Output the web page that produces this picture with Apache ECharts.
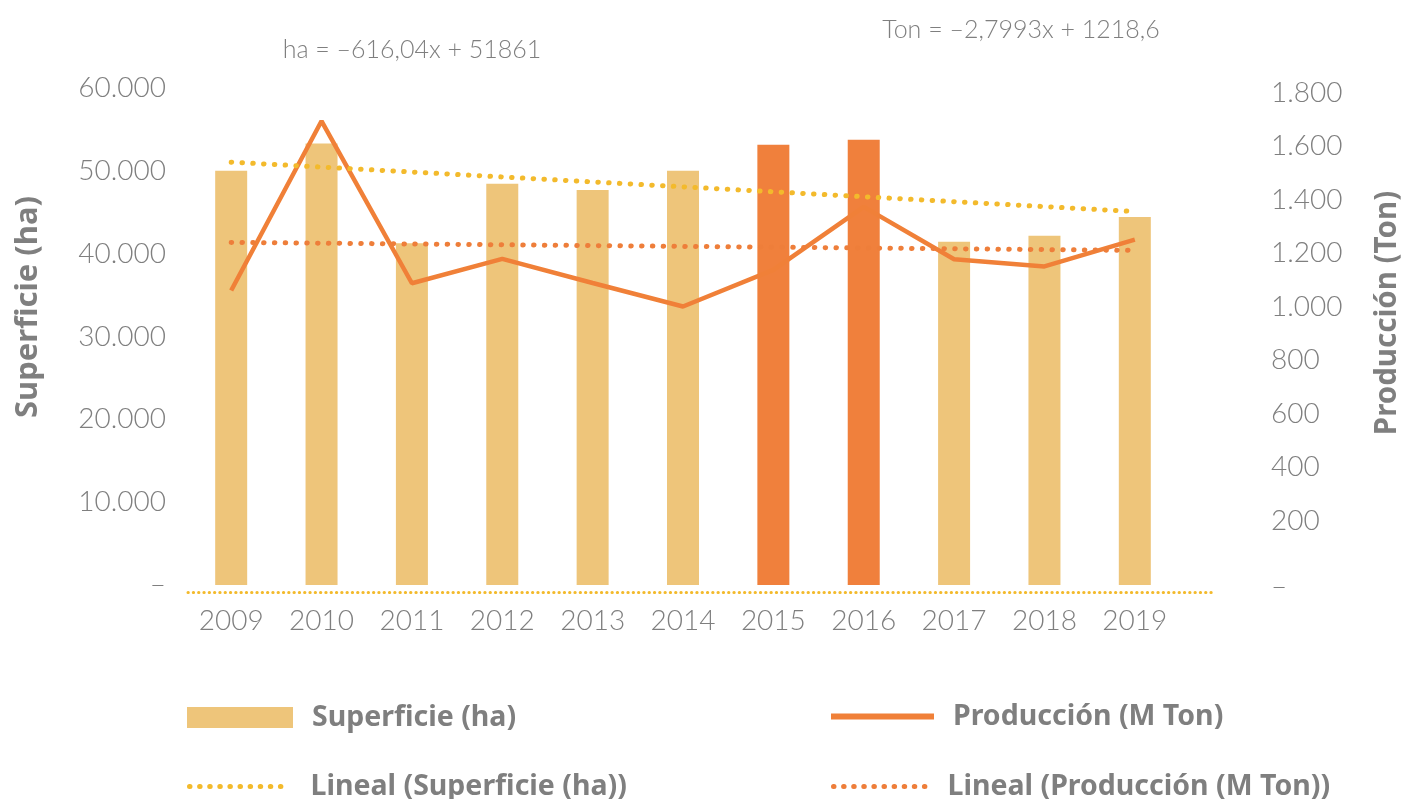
<!DOCTYPE html>
<html>
<head>
<meta charset="utf-8">
<script src="https://cdn.jsdelivr.net/npm/echarts@6/dist/echarts.min.js"></script>
<style>
html,body{margin:0;padding:0;background:#fff}
#chart{width:1405px;height:799px}
</style>
</head>
<body>
<div id="chart"></div>
<script>
// datos
var years = ['2009','2010','2011','2012','2013','2014','2015','2016','2017','2018','2019'];
var superficie = [50000, 53300, 41270, 48430, 47700, 50000, 53140, 53740, 41430, 42150, 44440];
var produccion = [1061, 1695, 1088, 1179, 1089, 1001, 1138, 1374, 1178, 1151, 1251];
var tendSuperficie = [51050, 45085];   // 2009 y 2019
var tendProduccion = [1241, 1211];     // 2009 y 2019
var destacados = ['2015', '2016'];
var ejeHa = [0, 60000, 10000];
var ejeTon = [0, 1800, 200];

var gris = '#7f7f7f';
var cBar = '#eec57a';
var cBarD = '#f0803c';
var cLinea = '#f08038';
var cAmarillo = '#f3ba2c';
var cNaranja = '#ee7e3a';

function miles(v) {
    if (v === 0) return '–';
    return String(v).replace(/\B(?=(\d{3})+(?!\d))/g, '.');
}

var barData = [];
for (var i = 0; i < years.length; i++) {
    var it = {value: superficie[i]};
    if (destacados.indexOf(years[i]) >= 0) {
        it.itemStyle = {color: cBarD};
    }
    barData.push(it);
}

var tick = {fontFamily: 'Lato', fontWeight: 300, fontSize: 28, color: gris};
function leyTxt(pad) {
    return {fontFamily: 'Noto Sans', fontWeight: 'bold', fontSize: 28.5, color: gris, lineHeight: 21, padding: [0, 0, 0, pad]};
}
var punteado = [0.5, 10.3];

var chart = echarts.init(document.getElementById('chart'));
var option = {
    animation: false,
    grid: [
        {left: 186, right: 225, top: 88, bottom: 214},
        {left: 186, right: 225, top: 93, bottom: 225},
        {left: 188, right: 193, top: 591, height: 1}
    ],
    xAxis: [{
        type: 'category', gridIndex: 0, data: years,
        axisLine: {show: false}, axisTick: {show: false},
        axisLabel: Object.assign({margin: 22}, tick)
    }, {
        type: 'category', gridIndex: 1, data: years, show: false
    }, {
        type: 'value', gridIndex: 2, min: 0, max: 1,
        axisLine: {show: true, lineStyle: {color: cAmarillo, width: 3, type: [0.3, 5], cap: 'round'}},
        axisTick: {show: false}, axisLabel: {show: false}, splitLine: {show: false}
    }],
    yAxis: [{
        type: 'value', gridIndex: 0, min: ejeHa[0], max: ejeHa[1], interval: ejeHa[2],
        axisLine: {show: false}, axisTick: {show: false}, splitLine: {show: false},
        axisLabel: Object.assign({margin: 20, formatter: miles}, tick)
    }, {
        type: 'value', gridIndex: 1, position: 'right', min: ejeTon[0], max: ejeTon[1], interval: ejeTon[2],
        axisLine: {show: false}, axisTick: {show: false}, splitLine: {show: false},
        axisLabel: Object.assign({
            margin: 91, align: 'left',
            formatter: function(v){ return v === 0 ? '{z|–}' : miles(v); },
            rich: {z: {fontFamily: 'Lato', fontWeight: 300, fontSize: 28, color: gris, padding: [25, 0, 0, 0]}}
        }, tick)
    }, {
        type: 'value', gridIndex: 2, show: false
    }],
    legend: [
        {data: [{name: 'Superficie (ha)', icon: 'rect'}], left: 182, top: 698, itemWidth: 106, itemHeight: 21,
         selectedMode: false, textStyle: leyTxt(14)},
        {data: ['Producción (M Ton)'], left: 823, top: 697, itemWidth: 103, itemHeight: 21,
         selectedMode: false, itemStyle: {opacity: 0}, lineStyle: {width: 6, cap: 'butt'},
         textStyle: leyTxt(14)},
        {data: ['Lineal (Superficie (ha))'], left: 182, top: 767, itemWidth: 96, itemHeight: 21,
         selectedMode: false, itemStyle: {opacity: 0},
         lineStyle: {width: 5, type: [0.5, 9.6], cap: 'round', color: cAmarillo},
         textStyle: leyTxt(20)},
        {data: ['Lineal (Producción (M Ton))'], left: 826, top: 767, itemWidth: 94, itemHeight: 21,
         selectedMode: false, itemStyle: {opacity: 0},
         lineStyle: {width: 5, type: [0.5, 9.6], cap: 'round', color: cNaranja},
         textStyle: leyTxt(15)}
    ],
    graphic: [
        {type: 'text', x: 28, y: 307, rotation: Math.PI / 2,
         style: {text: 'Superficie (ha)', align: 'center', verticalAlign: 'middle', fontFamily: 'Noto Sans', fontWeight: 'bold', fontSize: 31, fill: gris}},
        {type: 'text', x: 1388, y: 313, rotation: Math.PI / 2,
         style: {text: 'Producción (Ton)', align: 'center', verticalAlign: 'middle', fontFamily: 'Noto Sans', fontWeight: 'bold', fontSize: 29.5, fill: gris}},
        {type: 'text', x: 412, y: 50,
         style: {text: 'ha = –616,04x + 51861', align: 'center', verticalAlign: 'middle', fontFamily: 'Lato', fontWeight: 300, fontSize: 25, fill: gris}},
        {type: 'text', x: 1021, y: 30,
         style: {text: 'Ton = –2,7993x + 1218,6', align: 'center', verticalAlign: 'middle', fontFamily: 'Lato', fontWeight: 300, fontSize: 25, fill: gris}}
    ],
    series: [{
        name: 'Superficie (ha)', type: 'bar', xAxisIndex: 0, yAxisIndex: 0, z: 2,
        barWidth: 32, data: barData,
        itemStyle: {color: cBar}
    }, {
        name: 'Producción (M Ton)', type: 'line', xAxisIndex: 1, yAxisIndex: 1, z: 3,
        data: produccion, symbol: 'none',
        itemStyle: {color: cLinea},
        lineStyle: {color: cLinea, width: 4.5}
    }, {
        name: 'Lineal (Producción (M Ton))', type: 'line', xAxisIndex: 1, yAxisIndex: 1, z: 4,
        data: [[years[0], tendProduccion[0]], [years[years.length - 1], tendProduccion[1]]],
        symbol: 'none', silent: true,
        itemStyle: {color: cNaranja},
        lineStyle: {color: cNaranja, width: 5, type: punteado, cap: 'round'}
    }, {
        name: 'Lineal (Superficie (ha))', type: 'line', xAxisIndex: 0, yAxisIndex: 0, z: 5,
        data: [[years[0], tendSuperficie[0]], [years[years.length - 1], tendSuperficie[1]]],
        symbol: 'none', silent: true,
        itemStyle: {color: cAmarillo},
        lineStyle: {color: cAmarillo, width: 5, type: punteado, cap: 'round'}
    }]
};
chart.setOption(option);
</script>
</body>
</html>
